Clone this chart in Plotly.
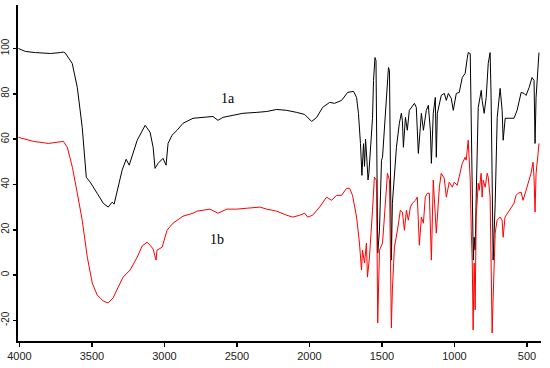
import plotly.graph_objects as go

# Spectrum 1a (black)
wn_a = [4007, 3959, 3890, 3787, 3718, 3697, 3684, 3636, 3601, 3567, 3539, 3512, 3464, 3422, 3388,
        3360, 3347, 3319, 3292, 3264, 3243, 3188, 3133, 3099, 3078, 3065, 3044, 3010, 2989, 2975,
        2948, 2913, 2872, 2803, 2734, 2666, 2631, 2597, 2528, 2459, 2363, 2294, 2226, 2157, 2088,
        2033, 1985, 1950, 1909, 1861, 1827, 1778, 1737, 1696, 1675, 1662, 1648, 1638, 1632, 1627,
        1620, 1613, 1603, 1596, 1590, 1580, 1565, 1558, 1548, 1541, 1533, 1529, 1517, 1503, 1496,
        1469, 1455, 1448, 1441, 1435, 1428, 1400, 1380, 1366, 1359, 1352, 1338, 1325, 1311, 1297,
        1276, 1263, 1249, 1228, 1214, 1194, 1180, 1166, 1159, 1146, 1132, 1125, 1118, 1091, 1070,
        1056, 1042, 1022, 1008, 987, 967, 946, 926, 912, 905, 891, 884, 877, 870, 864,
        857, 850, 836, 815, 809, 795, 781, 767, 754, 747, 740, 733, 719, 705, 685,
        671, 664, 650, 623, 589, 568, 540, 520, 506, 485, 465, 451, 444, 437, 423, 417]
t_a = [100.0, 98.7, 98.2, 97.8, 98.2, 98.4, 98.0, 93.4, 82.8, 65.2, 43.2, 41.0, 36.1, 31.7, 30.0,
       32.2, 31.3, 38.8, 46.3, 51.1, 48.5, 59.5, 66.1, 63.0, 56.4, 47.1, 49.3, 51.5, 48.5, 58.1,
       61.7, 63.9, 67.0, 69.2, 69.6, 70.0, 68.3, 69.6, 70.5, 71.4, 71.8, 72.2, 73.1, 72.7, 71.8,
       70.9, 67.8, 69.6, 74.0, 76.2, 75.8, 77.1, 80.6, 81.1, 78.4, 71.4, 58.0, 44.0, 52.0, 58.0,
       48.0, 60.0, 50.0, 42.0, 45.0, 57.0, 69.2, 85.9, 96.0, 94.7, 41.9, 9.7, 19.8, 50.7, 52.0,
       78.4, 91.6, 90.3, 49.3, 6.6, 31.7, 56.4, 67.0, 71.4, 68.3, 56.4, 69.6, 63.9, 72.7, 74.0,
       75.8, 74.0, 53.7, 71.4, 63.9, 72.7, 74.9, 63.9, 49.3, 71.4, 78.4, 52.0, 71.4, 79.3, 80.2,
       77.1, 80.2, 78.0, 72.7, 80.2, 80.6, 87.2, 89.0, 95.6, 98.2, 97.8, 71.4, 41.9, 6.6, 16.7,
       11.0, 34.4, 74.0, 81.5, 77.1, 71.4, 78.4, 93.4, 98.2, 78.4, 34.4, 6.6, 31.7, 69.6, 82.4,
       72.7, 59.5, 69.2, 69.2, 69.2, 72.7, 80.6, 80.2, 79.3, 82.8, 87.2, 85.9, 58.1, 78.4, 96.0, 98.2]

# Spectrum 1b (red)
wn_b = [4007, 3904, 3800, 3697, 3670, 3635, 3601, 3567, 3532, 3498, 3464, 3422, 3388, 3354, 3319,
        3285, 3237, 3188, 3154, 3120, 3099, 3078, 3058, 3051, 3016, 2982, 2941, 2872, 2803, 2776,
        2686, 2631, 2569, 2501, 2432, 2342, 2294, 2226, 2157, 2115, 2067, 2033, 2012, 1978, 1930,
        1882, 1847, 1813, 1778, 1744, 1723, 1703, 1675, 1655, 1641, 1634, 1620, 1607, 1600, 1586,
        1565, 1552, 1538, 1533, 1529, 1517, 1496, 1483, 1462, 1448, 1441, 1435, 1428, 1414, 1393,
        1373, 1359, 1345, 1331, 1318, 1304, 1290, 1269, 1256, 1242, 1228, 1214, 1201, 1187, 1173,
        1159, 1146, 1125, 1104, 1091, 1070, 1056, 1036, 1015, 1001, 981, 960, 946, 926, 919,
        905, 891, 884, 877, 871, 864, 857, 850, 836, 829, 816, 809, 802, 788, 774,
        767, 754, 747, 740, 733, 719, 706, 685, 671, 664, 651, 623, 589, 575, 561,
        540, 527, 506, 492, 472, 458, 451, 444, 437, 423, 417]
t_b = [60.8, 59.0, 58.1, 59.0, 56.4, 47.6, 36.1, 24.2, 7.9, -3.5, -8.8, -11.5, -12.3, -10.1, -5.3,
       -0.9, 2.2, 7.9, 12.8, 14.5, 13.2, 11.5, 6.6, 11.0, 12.3, 19.8, 22.9, 26.0, 27.3, 28.2,
       29.1, 27.3, 29.1, 29.1, 29.5, 30.0, 29.1, 28.2, 26.4, 25.6, 26.4, 27.3, 25.6, 26.4, 30.0,
       34.4, 33.0, 35.2, 35.2, 38.3, 38.3, 35.2, 25.6, 14.1, 2.2, 11.0, 5.3, 14.1, -0.9, 7.9,
       28.6, 43.2, 41.9, 5.3, -21.1, 11.0, 14.1, 25.6, 44.9, 41.9, 5.3, -23.3, -6.6, 12.3, 19.8,
       28.6, 27.8, 19.8, 28.6, 24.2, 30.0, 31.7, 33.0, 34.4, 13.2, 25.6, 22.9, 34.4, 36.1, 36.1,
       6.6, 41.9, 18.5, 38.8, 44.9, 42.7, 34.4, 41.0, 38.8, 41.0, 39.6, 46.3, 49.3, 52.0, 50.7,
       59.5, 41.9, 19.8, 5.3, -24.2, 5.3, -15.4, 25.6, 40.5, 37.4, 44.9, 34.4, 41.9, 38.8, 44.9,
       43.2, 34.4, 5.3, -25.6, -9.7, 18.5, 24.2, 25.6, 24.2, 16.7, 25.6, 28.6, 31.7, 35.2, 36.1,
       36.6, 33.0, 37.4, 40.5, 44.9, 49.8, 43.2, 27.8, 44.9, 53.7, 58.1]

x_ticks = [4000, 3500, 3000, 2500, 2000, 1500, 1000, 500]
y_ticks = [-20, 0, 20, 40, 60, 80, 100]

fig = go.Figure()
fig.add_trace(go.Scatter(x=wn_a, y=t_a, mode="lines", line=dict(color="#000000", width=1),
                         showlegend=False, hoverinfo="skip"))
fig.add_trace(go.Scatter(x=wn_b, y=t_b, mode="lines", line=dict(color="#ff0000", width=1),
                         showlegend=False, hoverinfo="skip"))

fig.add_annotation(x=2560, y=78, text="1a", showarrow=False,
                   font=dict(family="Liberation Serif, Times New Roman, serif", size=14, color="#000"))
fig.add_annotation(x=2636, y=15.5, text="1b", showarrow=False,
                   font=dict(family="Liberation Serif, Times New Roman, serif", size=14, color="#000"))

fig.update_layout(
    width=550, height=368,
    margin=dict(l=18, r=9, t=5, b=27, autoexpand=False),
    paper_bgcolor="white", plot_bgcolor="white",
    font=dict(family="Liberation Sans, Arial, sans-serif", size=11, color="#222"),
)
fig.update_xaxes(range=[4010, 403], tickvals=x_ticks, ticktext=[str(v) for v in x_ticks],
                 automargin=False,
                 showgrid=False, zeroline=False, showline=True, linecolor="#000", linewidth=2,
                 ticks="outside", ticklen=4, tickwidth=1.5, tickcolor="#000")
fig.update_yaxes(range=[-29.1, 119.2], tickvals=y_ticks, ticktext=[str(v) for v in y_ticks],
                 automargin=False, tickfont=dict(size=10),
                 tickangle=-90, showgrid=False, zeroline=False, showline=True, linecolor="#000",
                 linewidth=2, ticks="outside", ticklen=3, tickwidth=1.5, tickcolor="#000")

fig.write_html("out.html", config={"displayModeBar": False, "staticPlot": True},
               post_script="document.body.style.margin='0px';document.body.style.overflow='hidden';")
